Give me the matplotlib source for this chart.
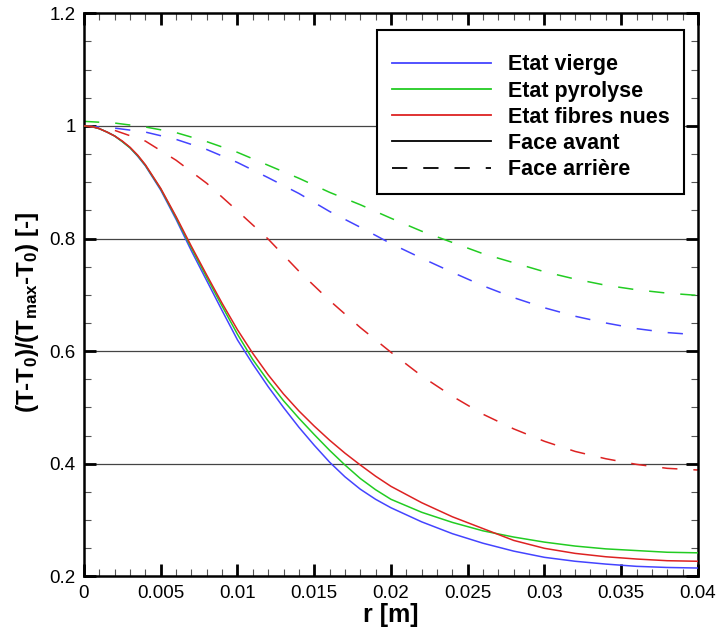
import matplotlib
matplotlib.use("Agg")
import matplotlib.pyplot as plt
from matplotlib.ticker import MultipleLocator, FuncFormatter

plt.rcParams['font.family'] = ['Liberation Sans', 'DejaVu Sans']
plt.rcParams['mathtext.fontset'] = 'custom'
plt.rcParams['mathtext.bf'] = 'Liberation Sans:bold'
plt.rcParams['mathtext.rm'] = 'Liberation Sans:bold'
plt.rcParams['mathtext.default'] = 'bf'
plt.rcParams['lines.scale_dashes'] = False

# front face (solid)
r_front = [0, 0.0005, 0.001, 0.0015, 0.002, 0.0025, 0.003, 0.0035, 0.004, 0.005, 0.006,
           0.007, 0.008, 0.009, 0.010, 0.011, 0.012, 0.013, 0.014, 0.015, 0.016, 0.017,
           0.018, 0.019, 0.020, 0.022, 0.024, 0.026, 0.028, 0.030, 0.032, 0.034, 0.036,
           0.038, 0.040]
vierge_avant = [1.000, 0.999, 0.995, 0.989, 0.982, 0.972, 0.961, 0.946, 0.929, 0.886, 0.834,
                0.778, 0.725, 0.672, 0.620, 0.577, 0.537, 0.500, 0.465, 0.433, 0.403, 0.377,
                0.355, 0.337, 0.322, 0.297, 0.276, 0.259, 0.245, 0.234, 0.227, 0.222, 0.218,
                0.216, 0.215]
pyrolyse_avant = [1.000, 0.999, 0.995, 0.989, 0.982, 0.972, 0.961, 0.947, 0.930, 0.888, 0.837,
                  0.783, 0.731, 0.680, 0.630, 0.585, 0.547, 0.512, 0.481, 0.452, 0.424, 0.398,
                  0.374, 0.354, 0.337, 0.314, 0.296, 0.281, 0.270, 0.261, 0.254, 0.249, 0.246,
                  0.243, 0.242]
fibres_avant = [1.000, 0.999, 0.995, 0.989, 0.982, 0.973, 0.962, 0.948, 0.931, 0.889, 0.839,
                0.786, 0.735, 0.685, 0.638, 0.596, 0.558, 0.524, 0.494, 0.467, 0.442, 0.419,
                0.398, 0.378, 0.360, 0.331, 0.306, 0.285, 0.264, 0.250, 0.241, 0.235, 0.231,
                0.228, 0.227]

# back face (dashed)
r_back = [0, 0.002, 0.004, 0.006, 0.008, 0.010, 0.012, 0.014, 0.016, 0.018, 0.020,
          0.022, 0.024, 0.026, 0.028, 0.030, 0.032, 0.034, 0.036, 0.038, 0.040]
vierge_arriere = [1.000, 0.996, 0.989, 0.976, 0.958, 0.935, 0.908, 0.880, 0.848, 0.820, 0.791,
                  0.765, 0.740, 0.716, 0.695, 0.677, 0.662, 0.650, 0.640, 0.633, 0.629]
pyrolyse_arriere = [1.008, 1.005, 0.998, 0.988, 0.972, 0.953, 0.930, 0.907, 0.882, 0.860, 0.836,
                    0.813, 0.793, 0.773, 0.757, 0.741, 0.728, 0.717, 0.709, 0.703, 0.699]
fibres_arriere = [1.000, 0.992, 0.973, 0.939, 0.898, 0.849, 0.799, 0.742, 0.690, 0.642, 0.598,
                  0.556, 0.520, 0.488, 0.462, 0.440, 0.422, 0.409, 0.399, 0.392, 0.389]

blue, green, red = '#4444ff', '#22cc22', '#dd2222'
dash = (0, (11, 11.5))

fig = plt.figure(figsize=(7.24, 6.29), dpi=100)
ax = fig.add_axes([0.116, 0.0835, 0.848, 0.8955])

for ygrid in [0.4, 0.6, 0.8, 1.0]:
    ax.axhline(ygrid, color='#444444', lw=0.9, zorder=1)

ax.plot(r_back, vierge_arriere, color=blue, lw=1.1, linestyle=dash, zorder=2)
ax.plot(r_back, pyrolyse_arriere, color=green, lw=1.1, linestyle=dash, zorder=2)
ax.plot(r_back, fibres_arriere, color=red, lw=1.1, linestyle=dash, zorder=2)
ax.plot(r_front, vierge_avant, color=blue, lw=1.1, zorder=3)
ax.plot(r_front, pyrolyse_avant, color=green, lw=1.1, zorder=3)
ax.plot(r_front, fibres_avant, color=red, lw=1.1, zorder=3)

# legend handles
h = []
h += ax.plot([], [], color=blue, lw=1.3, label='Etat vierge')
h += ax.plot([], [], color=green, lw=1.3, label='Etat pyrolyse')
h += ax.plot([], [], color=red, lw=1.3, label='Etat fibres nues')
h += ax.plot([], [], color='black', lw=1.3, label='Face avant')
h += ax.plot([], [], color='black', lw=1.3, linestyle=dash, label='Face arrière')
leg = ax.legend(handles=h, loc='upper right', bbox_to_anchor=(0.977, 0.970),
                prop={'weight': 'bold', 'size': 15.5}, fancybox=False,
                edgecolor='black', framealpha=1, handlelength=4.6,
                handletextpad=0.8, labelspacing=0.24, borderpad=0.66,
                borderaxespad=0, title=' ', title_fontsize=4)
leg.get_frame().set_linewidth(1.5)
leg.set_zorder(5)

ax.set_xlim(0, 0.04)
ax.set_ylim(0.2, 1.2)
ax.xaxis.set_major_locator(MultipleLocator(0.005))
ax.xaxis.set_minor_locator(MultipleLocator(0.001))
ax.yaxis.set_major_locator(MultipleLocator(0.2))
ax.yaxis.set_minor_locator(MultipleLocator(0.05))
fmt = FuncFormatter(lambda v, p: '%g' % round(v, 6))
ax.xaxis.set_major_formatter(fmt)
ax.yaxis.set_major_formatter(fmt)
ax.tick_params(which='both', direction='in', top=True, right=True)
ax.tick_params(which='major', length=8.5, width=2, labelsize=13.5, pad=6)
ax.tick_params(which='minor', length=5, width=0.8, color='#555555')
for s in ax.spines.values():
    s.set_linewidth(1.8)

ax.set_xlabel('r [m]', fontsize=18, fontweight='bold', labelpad=1)
ax.set_ylabel('(T-T$_0$)/(T$_{max}$-T$_0$) [-]', fontsize=17.5, fontweight='bold')
ax.yaxis.set_label_coords(-0.07, 0.47)

fig.savefig('out.png', dpi=100)
